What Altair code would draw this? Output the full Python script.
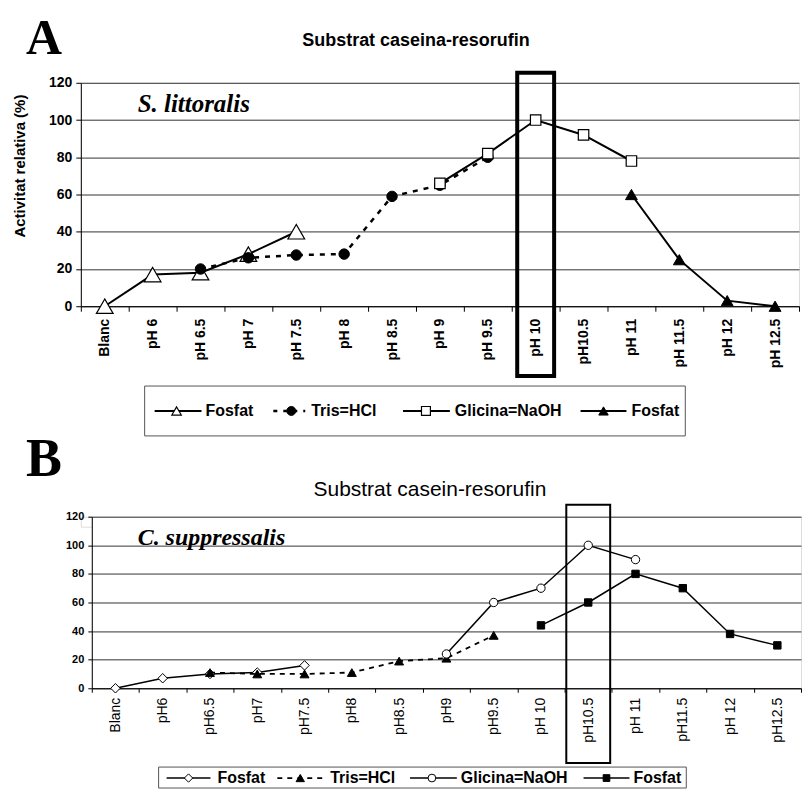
import altair as alt
import pandas as pd

# ---------------- Panel A data (S. littoralis) ----------------
ph_a = ["Blanc", "pH 6", "pH 6.5", "pH 7", "pH 7.5", "pH 8", "pH 8.5", "pH 9",
        "pH 9.5", "pH 10", "pH10.5", "pH 11", "pH 11.5", "pH 12", "pH 12.5"]
a_fosfat1_ph = ["Blanc", "pH 6", "pH 6.5", "pH 7", "pH 7.5"]
a_fosfat1_val = [0, 17, 18, 28, 40]
a_tris_ph = ["pH 6.5", "pH 7", "pH 7.5", "pH 8", "pH 8.5", "pH 9", "pH 9.5"]
a_tris_val = [20, 26, 27.5, 28, 59, 65, 80]
a_glic_ph = ["pH 9", "pH 9.5", "pH 10", "pH10.5", "pH 11"]
a_glic_val = [66, 82, 100, 92, 78]
a_fosfat2_ph = ["pH 11", "pH 11.5", "pH 12", "pH 12.5"]
a_fosfat2_val = [60, 25, 3, 0]
a_highlight = "pH 10"

# ---------------- Panel B data (C. suppressalis) ----------------
ph_b = ["Blanc", "pH6", "pH6.5", "pH7", "pH7.5", "pH8", "pH8.5", "pH9", "pH9.5",
        "pH 10", "pH10.5", "pH 11", "pH11.5", "pH 12", "pH12.5"]
b_fosfat1_ph = ["Blanc", "pH6", "pH6.5", "pH7", "pH7.5"]
b_fosfat1_val = [0, 7, 10, 11, 16]
b_tris_ph = ["pH6.5", "pH7", "pH7.5", "pH8", "pH8.5", "pH9", "pH9.5"]
b_tris_val = [11, 10, 10, 11, 19, 21, 37]
b_glic_ph = ["pH9", "pH9.5", "pH 10", "pH10.5", "pH 11"]
b_glic_val = [24, 60, 70, 100, 90]
b_fosfat2_ph = ["pH 10", "pH10.5", "pH 11", "pH11.5", "pH 12", "pH12.5"]
b_fosfat2_val = [44, 60, 80, 70, 38, 30]
b_highlight = "pH10.5"

series_names = ["Fosfat", "Tris=HCl", "Glicina=NaOH", "Fosfat"]
y_ticks = [0, 20, 40, 60, 80, 100, 120]

SANS = "Liberation Sans"
SERIF = "Liberation Serif"


def make_panel(ph, series, width, height, box, xaxis, yaxis, texts, legend):
    x_enc = alt.X("ph:N", sort=ph,
                  scale=alt.Scale(domain=ph, type="band", paddingInner=0, paddingOuter=0),
                  axis=xaxis, title=None)
    y_enc = alt.Y("v:Q", scale=alt.Scale(domain=[0, 120], nice=False), axis=yaxis)
    layers = []
    # highlighted column
    layers.append(
        alt.Chart(pd.DataFrame({"ph": [box["ph"]]}))
        .mark_bar(size=box["size"], fill="transparent", stroke="black", strokeWidth=box["sw"])
        .encode(x=x_enc, y=alt.value(box["y"][0]), y2=alt.value(box["y"][1]))
    )
    for s in series:
        df = pd.DataFrame({"ph": s["ph"], "v": s["v"], "i": [ph.index(p) for p in s["ph"]]})
        base = alt.Chart(df)
        lkw = dict(color="black", strokeWidth=s["lw"])
        if s.get("dash"):
            lkw["strokeDash"] = s["dash"]
        layers.append(base.mark_line(**lkw).encode(x=x_enc, y=y_enc, order="i:Q"))
        layers.append(base.mark_point(shape=s["shape"], filled=True, fill=s["fill"], stroke="black",
                                      strokeWidth=s["mw"], size=s["size"], opacity=1)
                      .encode(x=x_enc, y=y_enc))
    for t in texts:
        layers.append(
            alt.Chart(pd.DataFrame({"t": [t["text"]]}))
            .mark_text(align=t["align"], baseline="alphabetic", font=t["font"], fontSize=t["size"],
                       fontWeight=t["weight"], fontStyle=t["style"], color="black")
            .encode(x=alt.value(t["x"]), y=alt.value(t["y"]), text="t:N")
        )
    # legend
    bx = legend["box"]
    layers.append(
        alt.Chart(pd.DataFrame({"b": [0]}))
        .mark_rect(fill="white", stroke="#555555", strokeWidth=1)
        .encode(x=alt.value(bx[0]), x2=alt.value(bx[1]), y=alt.value(bx[2]), y2=alt.value(bx[3]))
    )
    ly = legend["y"]
    for s, (x0, x1, xm, xt) in zip(series, legend["pos"]):
        one = alt.Chart(pd.DataFrame({"name": [s["name"]]}))
        rkw = dict(color="black", strokeWidth=s["lw"])
        if s.get("ldash"):
            rkw["strokeDash"] = s["ldash"]
        layers.append(one.mark_rule(**rkw).encode(x=alt.value(x0), x2=alt.value(x1), y=alt.value(ly)))
        layers.append(one.mark_point(shape=s["shape"], filled=True, fill=s["fill"], stroke="black",
                                     strokeWidth=s["mw"], size=s["lsize"], opacity=1)
                      .encode(x=alt.value(xm), y=alt.value(ly)))
        layers.append(one.mark_text(align="left", baseline="middle", font=SANS, fontWeight="bold",
                                    fontSize=legend["fs"], color="black")
                      .encode(x=alt.value(xt), y=alt.value(ly), text="name:N"))
    return alt.layer(*layers).properties(width=width, height=height)


series_a = [
    dict(name=series_names[0], ph=a_fosfat1_ph, v=a_fosfat1_val, lw=2, shape="triangle-up",
         fill="white", mw=1.2, size=280, lsize=90),
    dict(name=series_names[1], ph=a_tris_ph, v=a_tris_val, lw=2.5, dash=[5, 6], ldash=[4, 6],
         shape="circle", fill="black", mw=1, size=110, lsize=80),
    dict(name=series_names[2], ph=a_glic_ph, v=a_glic_val, lw=2, shape="square",
         fill="white", mw=1.2, size=110, lsize=80),
    dict(name=series_names[3], ph=a_fosfat2_ph, v=a_fosfat2_val, lw=2, shape="triangle-up",
         fill="black", mw=1, size=140, lsize=90),
]

xaxis_a = alt.Axis(labelAngle=-90, labelFont=SANS, labelFontWeight="bold", labelFontSize=14,
                   labelColor="black", tickColor="black", tickSize=5, tickBand="extent",
                   domainColor="black", domainWidth=1, labelPadding=7, grid=False,
                   labelOverlap=False)
yaxis_a = alt.Axis(values=y_ticks, grid=True, gridColor="#333333", gridWidth=1, tickColor="black",
                   tickSize=5, labelFont=SANS, labelFontWeight="bold", labelFontSize=14,
                   labelColor="black", labelPadding=4, domainColor="black", domainWidth=1,
                   title="Activitat relativa (%)", titleFont=SANS, titleFontSize=15,
                   titleFontWeight="bold", titleColor="black", titleX=-53, titleY=83)

texts_a = [
    dict(text="A", x=-55, y=-29, align="left", font=SERIF, size=50, weight="bold", style="normal"),
    dict(text="Substrat caseina-resorufin", x=336, y=-37, align="center", font=SANS, size=18,
         weight="bold", style="normal"),
    dict(text="S. littoralis", x=57, y=29, align="left", font=SERIF, size=25, weight="bold",
         style="italic"),
]
legend_a = dict(box=[64, 606, 304, 354], y=329, fs=16,
                pos=[(74, 121, 96, 125), (193, 225, 211, 231), (323, 370, 346, 375), (501, 547, 524, 552)])

panel_a = make_panel(ph_a, series_a, 720, 224,
                     dict(ph=a_highlight, size=37, sw=4, y=[-10, 294]),
                     xaxis_a, yaxis_a, texts_a, legend_a)

series_b = [
    dict(name=series_names[0], ph=b_fosfat1_ph, v=b_fosfat1_val, lw=1.5, shape="diamond",
         fill="white", mw=1, size=90, lsize=70),
    dict(name=series_names[1], ph=b_tris_ph, v=b_tris_val, lw=1.8, dash=[5, 5], ldash=[5, 5],
         shape="triangle-up", fill="black", mw=1, size=80, lsize=70),
    dict(name=series_names[2], ph=b_glic_ph, v=b_glic_val, lw=1.5, shape="circle",
         fill="white", mw=1, size=70, lsize=60),
    dict(name=series_names[3], ph=b_fosfat2_ph, v=b_fosfat2_val, lw=1.5, shape="square",
         fill="black", mw=1, size=55, lsize=45),
]

xaxis_b = alt.Axis(labelAngle=-90, labelFont=SANS, labelFontWeight="normal", labelFontSize=14,
                   labelColor="black", tickColor="black", tickSize=4, tickBand="extent",
                   domainColor="black", domainWidth=1, labelPadding=5, grid=False,
                   labelOverlap=False)
yaxis_b = alt.Axis(values=y_ticks, grid=True, gridColor="#333333", gridWidth=1, tickColor="black",
                   tickSize=4, labelFont=SANS, labelFontWeight="bold", labelFontSize=11,
                   labelColor="black", labelPadding=4, domainColor="black", domainWidth=1,
                   title=None)

texts_b = [
    dict(text="B", x=-66, y=-41, align="left", font=SERIF, size=54, weight="bold", style="normal"),
    dict(text="Substrat casein-resorufin", x=339, y=-21, align="center", font=SANS, size=21,
         weight="normal", style="normal"),
    dict(text="C. suppressalis", x=46, y=28, align="left", font=SERIF, size=24, weight="bold",
         style="italic"),
]
legend_b = dict(box=[67, 596, 251, 272], y=262, fs=16,
                pos=[(75, 119, 97, 126), (186, 234, 209, 239), (319, 366, 341, 370), (493, 539, 516, 543)])

panel_b = make_panel(ph_b, series_b, 711, 172,
                     dict(ph=b_highlight, size=44, sw=2, y=[-12, 247]),
                     xaxis_b, yaxis_b, texts_b, legend_b)

spacer = (alt.Chart(pd.DataFrame({"s": [0]})).mark_point(opacity=0)
          .encode(x=alt.value(0), y=alt.value(0)).properties(width=11, height=10))

chart = (
    alt.vconcat(panel_a, alt.hconcat(spacer, panel_b, spacing=0, bounds="flush"),
                spacing=211, bounds="flush")
    .properties(padding={"left": 4, "top": 4, "right": 0, "bottom": 0})
    .configure_view(strokeWidth=0)
    .configure(font=SANS)
)

chart.save("out.html", embed_options={"renderer": "svg", "actions": False})
